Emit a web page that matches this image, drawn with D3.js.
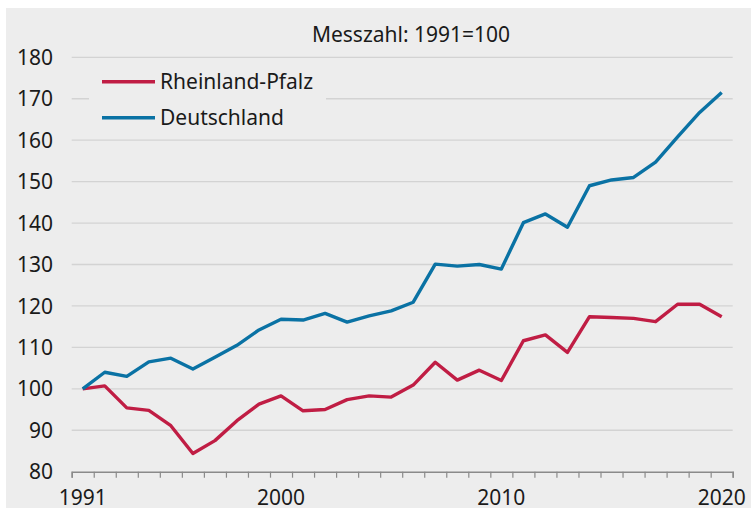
<!DOCTYPE html>
<html>
<head>
<meta charset="utf-8">
<script src="https://cdn.jsdelivr.net/npm/d3@7"></script>
<style>
  html, body { margin: 0; padding: 0; background: #fff; }
  svg { display: block; font-family: "Noto Sans", sans-serif; }
</style>
</head>
<body>
<div id="chart"></div>
<script>
// Index values, 1991 = 100
const years = d3.range(1991, 2021);
const rheinlandPfalz = [100, 100.7, 95.4, 94.8, 91.1, 84.4, 87.5, 92.3, 96.3, 98.3,
  94.7, 95.0, 97.4, 98.3, 98.0, 100.9, 106.4, 102.1, 104.5, 102.0,
  111.6, 113.0, 108.8, 117.4, 117.2, 117.0, 116.2, 120.4, 120.4, 117.4];
const deutschland = [100, 104.0, 103.0, 106.5, 107.4, 104.8, 107.6, 110.5, 114.2, 116.8,
  116.6, 118.2, 116.1, 117.6, 118.8, 120.9, 130.1, 129.6, 130.0, 128.9,
  140.1, 142.2, 139.0, 149.0, 150.4, 151.0, 154.7, 160.8, 166.7, 171.5];
const yTicks = [80, 90, 100, 110, 120, 130, 140, 150, 160, 170, 180];
const xLabels = [1991, 2000, 2010, 2020];
const series = [
  { name: "Rheinland-Pfalz", values: rheinlandPfalz, color: "#c01d44" },
  { name: "Deutschland", values: deutschland, color: "#0a72a4" },
];

const width = 751, height = 508;
const plot = { left: 71.7, right: 732.7, top: 57.3, bottom: 471.7 };

const svg = d3.select("#chart").append("svg")
  .attr("width", width)
  .attr("height", height);

// panel
svg.append("rect")
  .attr("x", 6).attr("y", 8)
  .attr("width", width - 6).attr("height", height - 8)
  .attr("fill", "#ededed");

const x = d3.scaleLinear().domain([1990.5, 2020.5]).range([plot.left, plot.right]);
const y = d3.scaleLinear().domain([80, 180]).range([plot.bottom, plot.top]);

// ── Grid ──
svg.append("g")
  .selectAll("line")
  .data(yTicks.filter((d) => d > 80))
  .join("line")
  .attr("x1", plot.left).attr("x2", plot.right)
  .attr("y1", (d) => y(d)).attr("y2", (d) => y(d))
  .attr("stroke", "#d3d3d3")
  .attr("stroke-width", 1.3);

// ── Y labels ──
svg.append("g")
  .selectAll("text")
  .data(yTicks)
  .join("text")
  .attr("x", 53)
  .attr("y", (d) => y(d))
  .attr("dy", "0.36em")
  .attr("text-anchor", "end")
  .attr("font-size", 21)
  .attr("fill", "#1a1a1a")
  .text((d) => d);

// ── X axis ──
const xAxis = svg.append("g")
  .attr("transform", `translate(0,${plot.bottom})`)
  .call(d3.axisBottom(x).tickValues(d3.range(1990.5, 2021, 1)).tickSize(6).tickFormat(""));
xAxis.select(".domain").attr("stroke", "#8a8a8a").attr("stroke-width", 1.5);
xAxis.selectAll(".tick line").attr("stroke", "#8a8a8a").attr("stroke-width", 1.2);

svg.append("g")
  .selectAll("text")
  .data(xLabels)
  .join("text")
  .attr("x", (d) => x(d))
  .attr("y", 505)
  .attr("text-anchor", "middle")
  .attr("font-size", 21)
  .attr("fill", "#1a1a1a")
  .text((d) => d);

// ── Lines ──
const line = d3.line()
  .x((d, i) => x(years[i]))
  .y((d) => y(d));

series.forEach((s) => {
  svg.append("path")
    .datum(s.values)
    .attr("d", line)
    .attr("fill", "none")
    .attr("stroke", s.color)
    .attr("stroke-width", 3.4)
    .attr("stroke-linejoin", "round");
});

// ── Legend ──
const legend = svg.append("g");
legend.append("rect")
  .attr("x", 89).attr("y", 66)
  .attr("width", 237).attr("height", 66)
  .attr("fill", "#ededed");
series.forEach((s, i) => {
  const ly = 81.7 + i * 36;
  legend.append("line")
    .attr("x1", 102).attr("x2", 155)
    .attr("y1", ly).attr("y2", ly)
    .attr("stroke", s.color)
    .attr("stroke-width", 3.4);
  legend.append("text")
    .attr("x", 160).attr("y", ly)
    .attr("dy", "0.36em")
    .attr("font-size", 21)
    .attr("fill", "#1a1a1a")
    .text(s.name);
});

// ── Title ──
svg.append("text")
  .attr("x", 411).attr("y", 34)
  .attr("dy", "0.36em")
  .attr("text-anchor", "middle")
  .attr("font-size", 21)
  .attr("fill", "#1a1a1a")
  .text("Messzahl: 1991=100");
</script>
</body>
</html>
